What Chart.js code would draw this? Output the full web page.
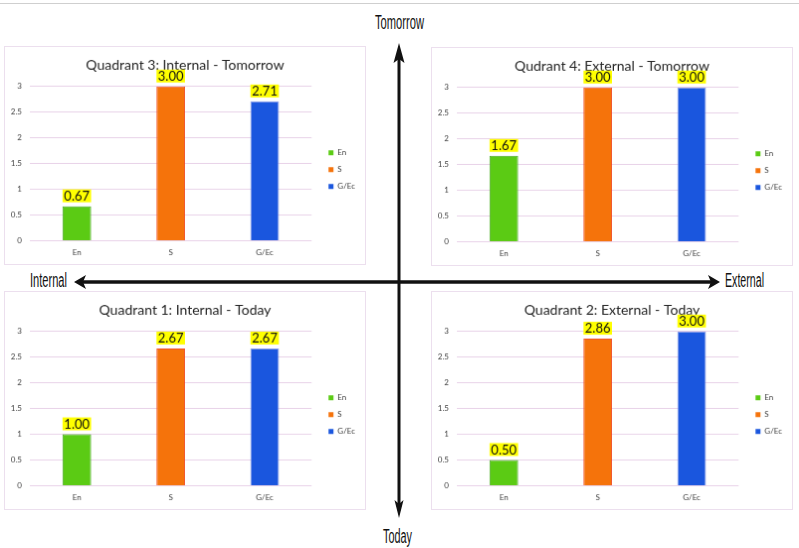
<!DOCTYPE html>
<html>
<head>
<meta charset="utf-8">
<script src="https://cdn.jsdelivr.net/npm/chart.js@4/dist/chart.umd.min.js"></script>
<style>
  html, body { margin: 0; padding: 0; background: #fff; }
  #page { position: relative; width: 799px; height: 548px; overflow: hidden; }
  #axes { position: absolute; left: 0; top: 0; }
  .panel { position: absolute; width: 362px; height: 219px; }
  .panel canvas { border: 1px solid #ecdfee; background: #fff; }
</style>
</head>
<body>
<div id="page">
  <svg id="axes" width="799" height="548" font-family="Liberation Sans, Arial, sans-serif" fill="#111">
    <line x1="0" y1="3.5" x2="799" y2="3.5" stroke="#cfcfcf" stroke-width="1"/>
    <!-- vertical axis -->
    <line x1="399" y1="58" x2="399" y2="505" stroke="#111" stroke-width="3"/>
    <polygon points="399,43 393.5,63 399,59 404.5,63"/>
    <polygon points="399,518 394.5,500 399,504 403.5,500"/>
    <!-- horizontal axis -->
    <line x1="80" y1="282" x2="714" y2="282" stroke="#111" stroke-width="3.5"/>
    <polygon points="74,282 86,275 83,282 86,289"/>
    <polygon points="720,282 708,275 711,282 708,289"/>
    <text x="375" y="29" font-size="21" textLength="49" lengthAdjust="spacingAndGlyphs">Tomorrow</text>
    <text x="383" y="543" font-size="20" textLength="29" lengthAdjust="spacingAndGlyphs">Today</text>
    <text x="30" y="287" font-size="20" textLength="37" lengthAdjust="spacingAndGlyphs">Internal</text>
    <text x="725" y="287" font-size="20" textLength="39" lengthAdjust="spacingAndGlyphs">External</text>
  </svg>
  <div class="panel" style="left:4px;top:46px"><canvas id="q3" width="362" height="219"></canvas></div>
  <div class="panel" style="left:431px;top:47px"><canvas id="q4" width="362" height="219"></canvas></div>
  <div class="panel" style="left:4px;top:291px"><canvas id="q1" width="362" height="219"></canvas></div>
  <div class="panel" style="left:431px;top:291px"><canvas id="q2" width="362" height="219"></canvas></div>
</div>
<script>
const categories = ['En', 'S', 'G/Ec']
const q3Values = [0.67, 3.00, 2.71]
const q4Values = [1.67, 3.00, 3.00]
const q1Values = [1.00, 2.67, 2.67]
const q2Values = [0.50, 2.86, 3.00]
const yTicks = [0, 0.5, 1, 1.5, 2, 2.5, 3]

const barColors = ['#5bcb14', '#f5730b', '#1a56de']
const barBorders = ['#4aa827', '#f0502a', '#8a9ce8']
const smallFont = { size: 8, family: 'Lato, "Liberation Sans", sans-serif' }

// yellow value boxes above each bar
const valueBoxes = {
  id: 'valueBoxes',
  afterDatasetsDraw(chart) {
    const ctx = chart.ctx
    const meta = chart.getDatasetMeta(0)
    const values = chart.data.datasets[0].data
    ctx.save()
    ctx.font = '13px Lato, "Liberation Sans", sans-serif'
    ctx.textAlign = 'center'
    ctx.textBaseline = 'middle'
    meta.data.forEach((bar, i) => {
      const text = values[i].toFixed(2)
      const w = ctx.measureText(text).width + 3
      const h = 13
      const bottom = bar.y - 4
      ctx.fillStyle = '#ffff00'
      ctx.fillRect(bar.x - w / 2, bottom - h, w, h)
      ctx.fillStyle = '#111'
      ctx.fillText(text, bar.x, bottom - h / 2 + 0.5)
    })
    ctx.restore()
  }
}

function makeQuadrant(id, title, values) {
  return new Chart(document.getElementById(id), {
    type: 'bar',
    data: {
      labels: categories,
      datasets: [{
        data: values,
        backgroundColor: barColors,
        borderColor: barBorders,
        borderWidth: 1,
        barPercentage: 0.305,
        categoryPercentage: 1
      }]
    },
    options: {
      responsive: false,
      animation: false,
      layout: { padding: 0 },
      scales: {
        x: {
          grid: { display: false, drawTicks: false },
          border: { display: false },
          ticks: { padding: 7, color: '#404040', font: smallFont }
        },
        y: {
          min: 0,
          max: 3,
          afterBuildTicks: (scale) => { scale.ticks = yTicks.map((v) => ({ value: v })) },
          afterFit: (scale) => { scale.width = 25 },
          grid: { color: '#e8d2e8', drawTicks: false },
          border: { display: false },
          ticks: { padding: 8, color: '#404040', font: smallFont, callback: (v) => String(v) }
        },
        gap: {
          position: 'right',
          display: true,
          grid: { display: false },
          border: { display: false },
          ticks: { display: false },
          afterFit: (scale) => { scale.width = 8 }
        }
      },
      plugins: {
        title: {
          display: true,
          text: title,
          color: '#262626',
          font: { size: 14, weight: 'normal', family: 'Lato, "Liberation Sans", sans-serif' },
          padding: { top: 10, bottom: 13 }
        },
        legend: {
          position: 'right',
          title: { display: true, text: '', font: smallFont, padding: { top: 19, bottom: 0 } },
          labels: {
            boxWidth: 5,
            boxHeight: 5,
            padding: 9,
            color: '#404040',
            font: smallFont,
            generateLabels: () => categories.map((c, i) => ({
              text: c,
              fillStyle: barColors[i],
              strokeStyle: barColors[i],
              lineWidth: 0,
              fontColor: '#404040',
              index: i
            }))
          }
        },
        tooltip: { enabled: false }
      }
    },
    plugins: [valueBoxes]
  })
}

makeQuadrant('q3', 'Quadrant 3: Internal - Tomorrow', q3Values)
makeQuadrant('q4', 'Qudrant 4: External - Tomorrow', q4Values)
makeQuadrant('q1', 'Quadrant 1: Internal - Today', q1Values)
makeQuadrant('q2', 'Quadrant 2: External - Today', q2Values)
</script>
</body>
</html>
